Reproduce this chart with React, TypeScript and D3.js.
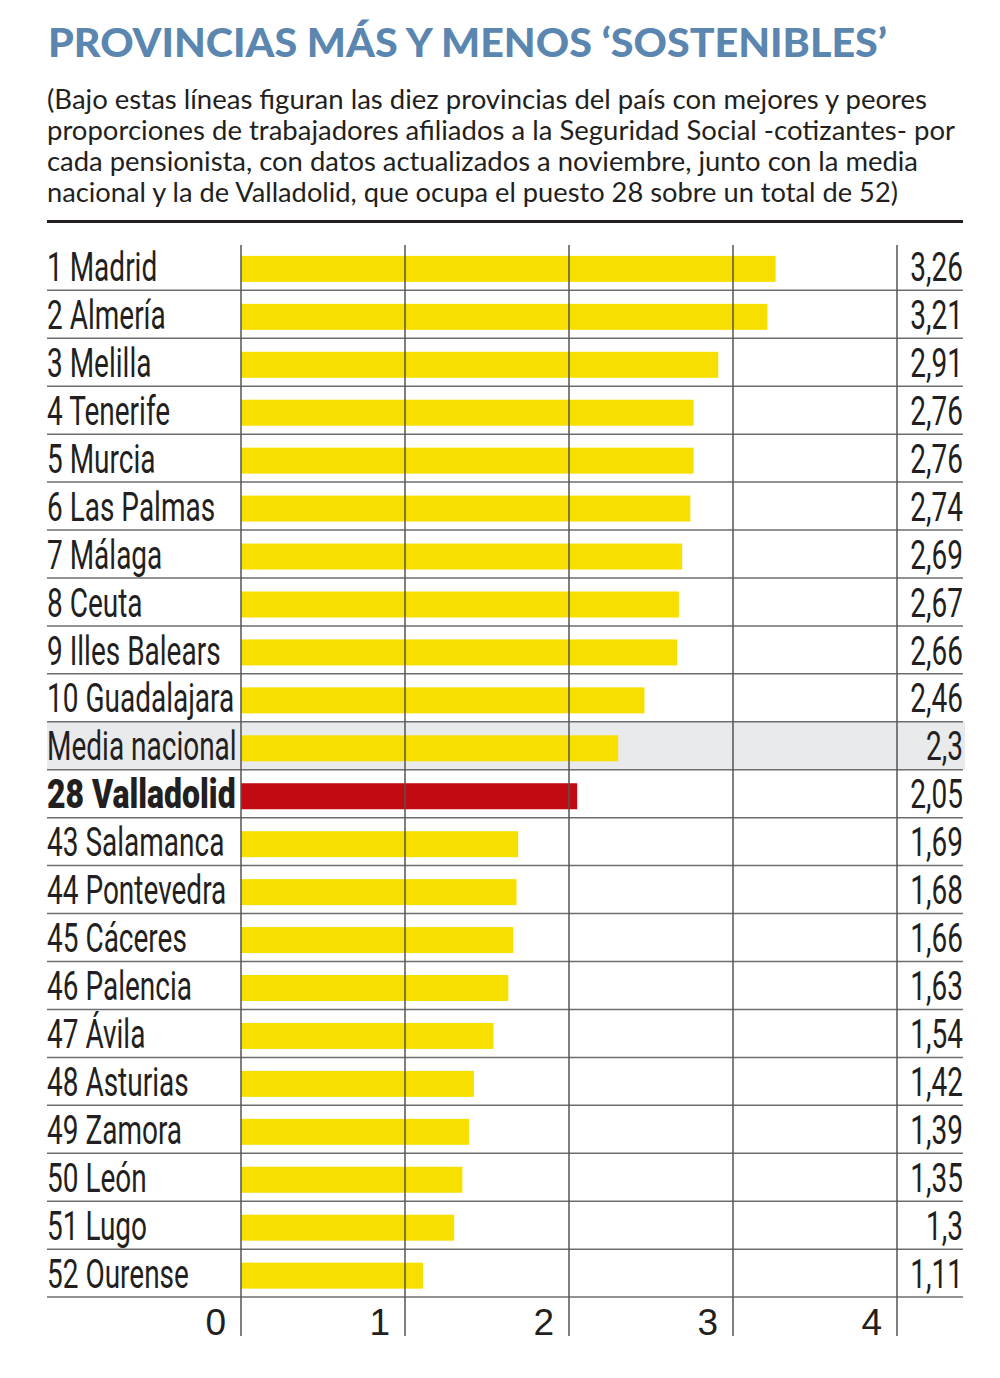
import React from "react";
import * as d3 from "d3";

const categories = [
  "1 Madrid", "2 Almería", "3 Melilla", "4 Tenerife", "5 Murcia", "6 Las Palmas",
  "7 Málaga", "8 Ceuta", "9 Illes Balears", "10 Guadalajara", "Media nacional",
  "28 Valladolid", "43 Salamanca", "44 Pontevedra", "45 Cáceres", "46 Palencia",
  "47 Ávila", "48 Asturias", "49 Zamora", "50 León", "51 Lugo", "52 Ourense",
];
const values = [
  3.26, 3.21, 2.91, 2.76, 2.76, 2.74, 2.69, 2.67, 2.66, 2.46, 2.3, 2.05,
  1.69, 1.68, 1.66, 1.63, 1.54, 1.42, 1.39, 1.35, 1.3, 1.11,
];
const ticks = [0, 1, 2, 3, 4];
const highlight = "28 Valladolid";
const average = "Media nacional";

const title = "PROVINCIAS MÁS Y MENOS ‘SOSTENIBLES’";
const subtitleLines = [
  "(Bajo estas líneas figuran las diez provincias del país con mejores y peores",
  "proporciones de trabajadores afiliados a la Seguridad Social -cotizantes- por",
  "cada pensionista, con datos actualizados a noviembre, junto con la media",
  "nacional y la de Valladolid, que ocupa el puesto 28 sobre un total de 52)",
];
const subtitleWidths = [880, 908, 871, 851];

const fmt = (v: number) => String(v).replace(".", ",");

export default function App() {
  const W = 1000, H = 1378;
  const left = 47, right = 963;
  const top = 242.4, step = 47.94;
  const x = d3.scaleLinear().domain([0, 4]).range([241, 897]);
  const y = d3.scaleBand<string>().domain(categories).range([top, top + step * categories.length]);
  const bottom = top + step * categories.length;
  const ink = "#231f20";
  const condensed = 0.7;

  return (
    <svg width={W} height={H} style={{ position: "absolute", left: 0, top: 0, background: "#fff" }}>
      <text x={48} y={57} fontFamily="Lato, 'Open Sans', sans-serif" fontWeight={900} fontSize={39}
        fill="#5b86b0" textLength={839} lengthAdjust="spacingAndGlyphs">{title}</text>
      {subtitleLines.map((s, i) => (
        <text key={i} x={47} y={109 + i * 31} fontFamily="Lato, 'Open Sans', sans-serif" fontSize={26}
          fill={ink} textLength={subtitleWidths[i]} lengthAdjust="spacingAndGlyphs">{s}</text>
      ))}
      <rect x={left} y={220} width={right - left} height={3} fill={ink} />

      {/* average band */}
      <rect x={left} y={y(average)!} width={right - left + 2} height={step} fill="#e9eaec" />

      {/* bars */}
      {categories.map((c, i) => (
        <rect key={c} x={x(0)} y={y(c)! + 13.5} width={x(values[i]) - x(0)} height={26}
          fill={c === highlight ? "#c20a12" : "#f7e000"} />
      ))}

      {/* row separators */}
      {categories.map((c) => (
        <line key={c} x1={left} x2={right} y1={y(c)! + step} y2={y(c)! + step} stroke="#6d6e71" strokeWidth={1.5} />
      ))}

      {/* vertical grid */}
      {ticks.map((t) => (
        <line key={t} x1={x(t)} x2={x(t)} y1={245} y2={1336} stroke="#555" strokeWidth={1.5} />
      ))}

      {/* labels */}
      {categories.map((c) => {
        const bold = c === highlight;
        return (
          <text key={c} transform={`translate(${left},${y(c)! + 38.6}) scale(${bold ? 0.8 : condensed},1)`}
            fontFamily="Roboto, sans-serif" fontWeight={bold ? 900 : 400} fontSize={40} fill={ink}>{c}</text>
        );
      })}

      {/* values */}
      {categories.map((c, i) => (
        <text key={c} transform={`translate(${right},${y(c)! + 38.6}) scale(${condensed},1)`} textAnchor="end"
          fontFamily="Roboto, sans-serif" fontSize={40} fill={ink}>{fmt(values[i])}</text>
      ))}

      {/* tick labels */}
      {ticks.map((t) => (
        <text key={t} x={x(t) - 15} y={1335} textAnchor="end" fontFamily="'Liberation Sans', Arial, sans-serif"
          fontSize={37} fill={ink}>{t}</text>
      ))}
    </svg>
  );
}
